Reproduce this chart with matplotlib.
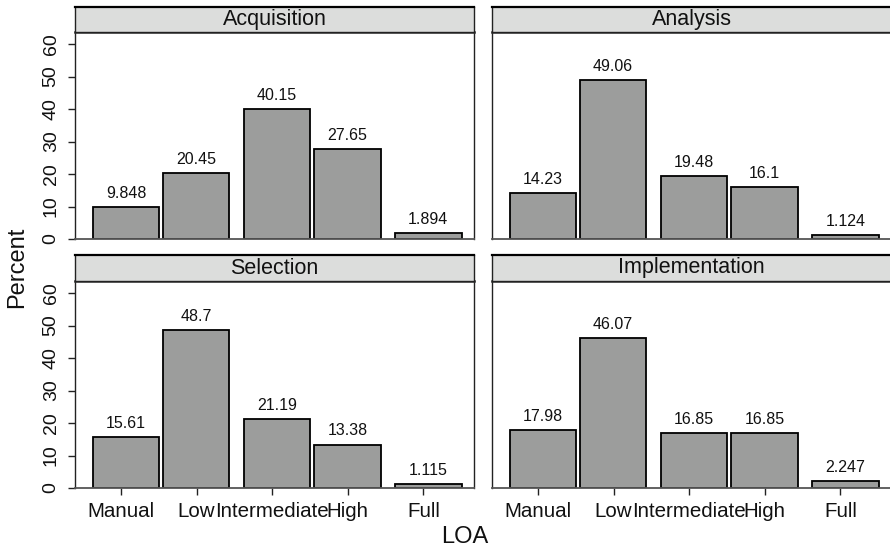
import matplotlib
matplotlib.use("Agg")
import matplotlib.pyplot as plt

plt.rcParams['font.family'] = ['Liberation Sans', 'DejaVu Sans']

categories = ["Manual", "Low", "Intermediate", "High", "Full"]
panels = ["Acquisition", "Analysis", "Selection", "Implementation"]
values = {
    "Acquisition": [9.848, 20.45, 40.15, 27.65, 1.894],
    "Analysis": [14.23, 49.06, 19.48, 16.1, 1.124],
    "Selection": [15.61, 48.7, 21.19, 13.38, 1.115],
    "Implementation": [17.98, 46.07, 16.85, 16.85, 2.247],
}
labels = {
    "Acquisition": ["9.848", "20.45", "40.15", "27.65", "1.894"],
    "Analysis": ["14.23", "49.06", "19.48", "16.1", "1.124"],
    "Selection": ["15.61", "48.7", "21.19", "13.38", "1.115"],
    "Implementation": ["17.98", "46.07", "16.85", "16.85", "2.247"],
}
yticks = [0, 10, 20, 30, 40, 50, 60]

# layout
W, H = 890, 552
bar_offsets = [0.066, -0.005, 0.066, -0.005, 0.066]
bar_width = 0.88
ticks_x = [1, 2, 3, 4, 5]
xlim = (0.392, 5.67)
ylim = (0, 63.7)

fig = plt.figure(figsize=(W / 100, H / 100), dpi=100)

boxes = {
    "Acquisition": (75, 32, 399, 207),
    "Analysis": (492, 32, 399, 207),
    "Selection": (75, 281, 399, 207),
    "Implementation": (492, 281, 399, 207),
}
strip_h = {"Acquisition": 25, "Analysis": 25, "Selection": 26, "Implementation": 26}

bar_color = "#9c9d9c"
strip_color = "#dcdddc"

for i, name in enumerate(panels):
    l, t, w, h = boxes[name]
    ax = fig.add_axes([l / W, 1 - (t + h) / H, w / W, h / H])
    xs = [p + o for p, o in zip(ticks_x, bar_offsets)]
    ax.bar(xs, values[name], width=bar_width, color=bar_color,
           edgecolor="black", linewidth=1.3, zorder=2)
    for x, v, s in zip(xs, values[name], labels[name]):
        ax.annotate(s, (x, v), xytext=(0, 6.5), textcoords="offset points",
                    ha="center", va="baseline", fontsize=11.5, color="#111111")
    ax.set_xlim(*xlim)
    ax.set_ylim(*ylim)
    for sp in ["left", "right", "top"]:
        ax.spines[sp].set_color("#222222")
        ax.spines[sp].set_linewidth(1.0)
    ax.spines["top"].set_linewidth(1.8)
    ax.spines["top"].set_color("#333333")
    ax.spines["bottom"].set_color("#555555")
    ax.spines["bottom"].set_linewidth(1.3)

    if i % 2 == 0:
        ax.set_yticks(yticks)
        ax.set_yticklabels([str(y) for y in yticks], rotation=90, va="center",
                           fontsize=14, color="#111111")
        ax.tick_params(axis="y", length=5, width=1, pad=6, color="#222222")
    else:
        ax.set_yticks([])
    if i >= 2:
        ax.set_xticks(ticks_x)
        ax.set_xticklabels(categories, fontsize=14.8, color="#111111")
        ax.tick_params(axis="x", length=5, width=1, pad=5, color="#222222")
    else:
        ax.set_xticks([])

    sh = strip_h[name]
    sax = fig.add_axes([l / W, 1 - t / H, w / W, sh / H])
    sax.set_facecolor(strip_color)
    sax.set_xticks([])
    sax.set_yticks([])
    for sp in sax.spines.values():
        sp.set_color("#222222")
        sp.set_linewidth(1.0)
    sax.spines["top"].set_linewidth(1.6)
    sax.spines["top"].set_color("black")
    sax.text(0.5, 0.5, name, ha="center", va="center", fontsize=15.5,
             color="#111111", transform=sax.transAxes)

fig.text(17 / W, 1 - 267 / H, "Percent", rotation=90, ha="center", va="center",
         fontsize=17, color="#111111")
fig.text(465 / W, 1 - 537 / H, "LOA", ha="center", va="center",
         fontsize=17, color="#111111")

fig.savefig("out.png", dpi=100)
